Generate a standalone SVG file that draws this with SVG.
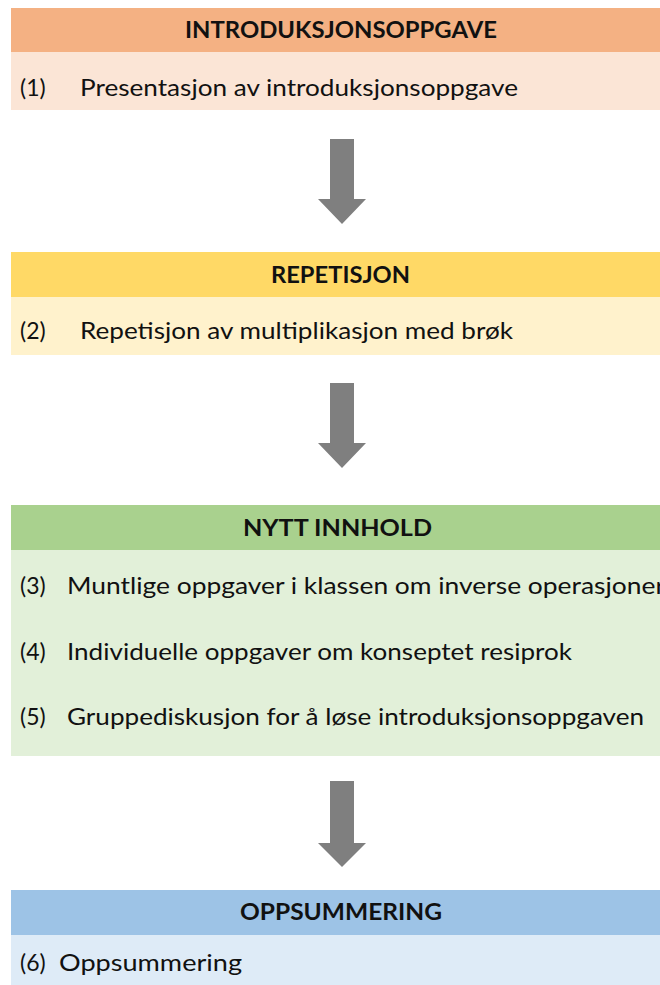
<svg xmlns="http://www.w3.org/2000/svg" width="660" height="985" viewBox="0 0 660 985">
<style>
.hd{font-family:Lato,"Liberation Sans",sans-serif;font-weight:bold;font-size:22px;fill:#111;}
.bd{font-family:Lato,"Liberation Sans",sans-serif;font-size:23px;fill:#111;}
.arrow{fill:#7F7F7F;}
</style>
<rect width="660" height="985" fill="#ffffff"/>
<g id="introduksjonsoppgave">
<rect x="11" y="8" width="649" height="44" fill="#F4B183"/>
<rect x="11" y="52" width="649" height="58" fill="#FBE5D6"/>
<text class="hd" x="185" y="38" textLength="312" lengthAdjust="spacingAndGlyphs">INTRODUKSJONSOPPGAVE</text>
<text class="bd" y="96"><tspan x="20">(1)</tspan><tspan x="80" textLength="438" lengthAdjust="spacingAndGlyphs">Presentasjon av introduksjonsoppgave</tspan></text>
</g>
<g id="repetisjon">
<rect x="11" y="252" width="649" height="45" fill="#FFD966"/>
<rect x="11" y="297" width="649" height="58" fill="#FFF2CC"/>
<text class="hd" x="271" y="283" textLength="139" lengthAdjust="spacingAndGlyphs">REPETISJON</text>
<text class="bd" y="339"><tspan x="20">(2)</tspan><tspan x="80" textLength="433" lengthAdjust="spacingAndGlyphs">Repetisjon av multiplikasjon med brøk</tspan></text>
</g>
<g id="nytt-innhold">
<rect x="11" y="505" width="649" height="45" fill="#A9D18E"/>
<rect x="11" y="550" width="649" height="206" fill="#E2F0D9"/>
<text class="hd" x="243" y="536" textLength="189" lengthAdjust="spacingAndGlyphs">NYTT INNHOLD</text>
<text class="bd" y="594"><tspan x="20">(3)</tspan><tspan x="67" textLength="598" lengthAdjust="spacingAndGlyphs">Muntlige oppgaver i klassen om inverse operasjoner</tspan></text>
<text class="bd" y="660"><tspan x="20">(4)</tspan><tspan x="67" textLength="505" lengthAdjust="spacingAndGlyphs">Individuelle oppgaver om konseptet resiprok</tspan></text>
<text class="bd" y="725"><tspan x="20">(5)</tspan><tspan x="67" textLength="577" lengthAdjust="spacingAndGlyphs">Gruppediskusjon for å løse introduksjonsoppgaven</tspan></text>
</g>
<g id="oppsummering">
<rect x="11" y="890" width="649" height="45" fill="#9DC3E6"/>
<rect x="11" y="935" width="649" height="50" fill="#DEEBF7"/>
<text class="hd" x="240" y="920" textLength="202" lengthAdjust="spacingAndGlyphs">OPPSUMMERING</text>
<text class="bd" y="971"><tspan x="20">(6)</tspan><tspan x="59" textLength="183" lengthAdjust="spacingAndGlyphs">Oppsummering</tspan></text>
</g>
<g id="connectors">
<polygon class="arrow" points="330,139 354,139 354,199 366,199 342,224 318,199 330,199"/>
<polygon class="arrow" points="330,383 354,383 354,443 366,443 342,468 318,443 330,443"/>
<polygon class="arrow" points="330,781 354,781 354,843 366,843 342,867 318,843 330,843"/>
</g>
</svg>
